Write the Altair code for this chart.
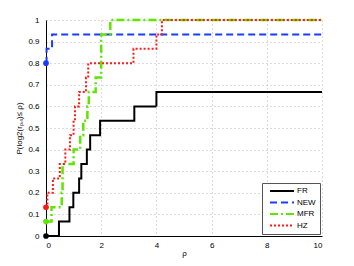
import altair as alt
import pandas as pd

series = ["FR", "NEW", "MFR", "HZ"]
colors = ["#000000", "#1a3cff", "#5ee600", "#ff1a1a"]
dashes = [[1, 0], [7, 4], [8, 3, 2, 3], [2, 2]]
widths = [2, 2, 2.5, 2]

x_ticks = [0, 2, 4, 6, 8, 10]
y_ticks = [0, 0.1, 0.2, 0.3, 0.4, 0.5, 0.6, 0.7, 0.8, 0.9, 1]

fr_rho = [0, 0.47, 0.85, 0.99, 1.2, 1.28, 1.48, 1.6, 1.96, 3.2, 4.0, 10]
fr_p = [0, 0.0667, 0.1333, 0.2, 0.2667, 0.3333, 0.4, 0.4667, 0.5333, 0.6, 0.6667, 0.6667]

new_rho = [0, 0.02, 0.22, 10]
new_p = [0.8, 0.8667, 0.9333, 0.9333]

mfr_rho = [0, 0.2, 0.57, 0.6, 1.0, 1.24, 1.35, 1.5, 1.55, 1.8, 2.0, 2.33, 10]
mfr_p = [0.0667, 0.1333, 0.2, 0.3333, 0.4, 0.4667, 0.5333, 0.6, 0.6667, 0.7333, 0.9333, 1, 1]

hz_rho = [0, 0.05, 0.25, 0.5, 0.7, 0.87, 1.0, 1.05, 1.2, 1.45, 1.53, 3.17, 4.0, 4.2, 10]
hz_p = [0.1333, 0.2, 0.2667, 0.3333, 0.4, 0.4667, 0.5333, 0.6, 0.6667, 0.7333, 0.8, 0.8667, 0.9333, 1, 1]

rows = []
for name, rho, p in [("FR", fr_rho, fr_p), ("NEW", new_rho, new_p),
                     ("MFR", mfr_rho, mfr_p), ("HZ", hz_rho, hz_p)]:
    for i, (r, v) in enumerate(zip(rho, p)):
        rows.append({"series": name, "rho": r, "p": v, "i": i})
df = pd.DataFrame(rows)

x = alt.X("rho:Q", scale=alt.Scale(domain=[0, 10], nice=False),
          axis=alt.Axis(values=x_ticks, title="ρ", format="d",
                        titleBaseline="alphabetic", titleY=19))
y = alt.Y("p:Q", scale=alt.Scale(domain=[0, 1], nice=False),
          axis=alt.Axis(values=y_ticks, title="P(log2(rₚ,ₛ)≤ ρ)", format="~g"))
color = alt.Color("series:N", scale=alt.Scale(domain=series, range=colors),
                  legend=alt.Legend(title=None))
dash = alt.StrokeDash("series:N", scale=alt.Scale(domain=series, range=dashes),
                      legend=alt.Legend(title=None))

base = alt.Chart(df)
layers = []
for name, w in zip(series, widths):
    layers.append(
        base.transform_filter(alt.datum.series == name)
        .mark_line(interpolate="step-after", strokeWidth=w, clip=False)
        .encode(x=x, y=y, color=color, strokeDash=dash, order="i:Q")
    )

points = base.transform_filter(alt.datum.i == 0).mark_point(
    filled=True, size=32, opacity=1
).encode(
    x=x, y=y,
    color=alt.Color("series:N", scale=alt.Scale(domain=series, range=colors), legend=None),
)

chart = alt.layer(*layers, points).properties(
    width=276, height=216,
    autosize=alt.AutoSizeParams(type="none"),
    padding={"left": 38, "top": 12, "right": 24, "bottom": 22},
).configure_view(stroke=None).configure_axis(
    domainColor="#000000", domainWidth=1,
    grid=True, gridColor="#b8b8b8", gridDash=[1, 3], gridWidth=1,
    ticks=False,
    labelFont="Liberation Sans", labelFontSize=8, labelColor="#000000",
    titleFont="Liberation Sans", titleFontSize=8, titleFontWeight="normal", titleColor="#000000",
).configure_axisX(
    labelPadding=5,
).configure_axisY(
    labelPadding=7, titlePadding=4,
).configure_legend(
    orient="none", legendX=216, legendY=163,
    padding=4, fillColor="#ffffff", strokeColor="#555555",
    rowPadding=3.5, labelFont="Liberation Sans", labelFontSize=8, labelColor="#000000",
    symbolType="M0,0H8", symbolSize=36, symbolStrokeWidth=2, labelOffset=23,
)

chart.save("out.html", embed_options={"renderer": "svg", "actions": False})
